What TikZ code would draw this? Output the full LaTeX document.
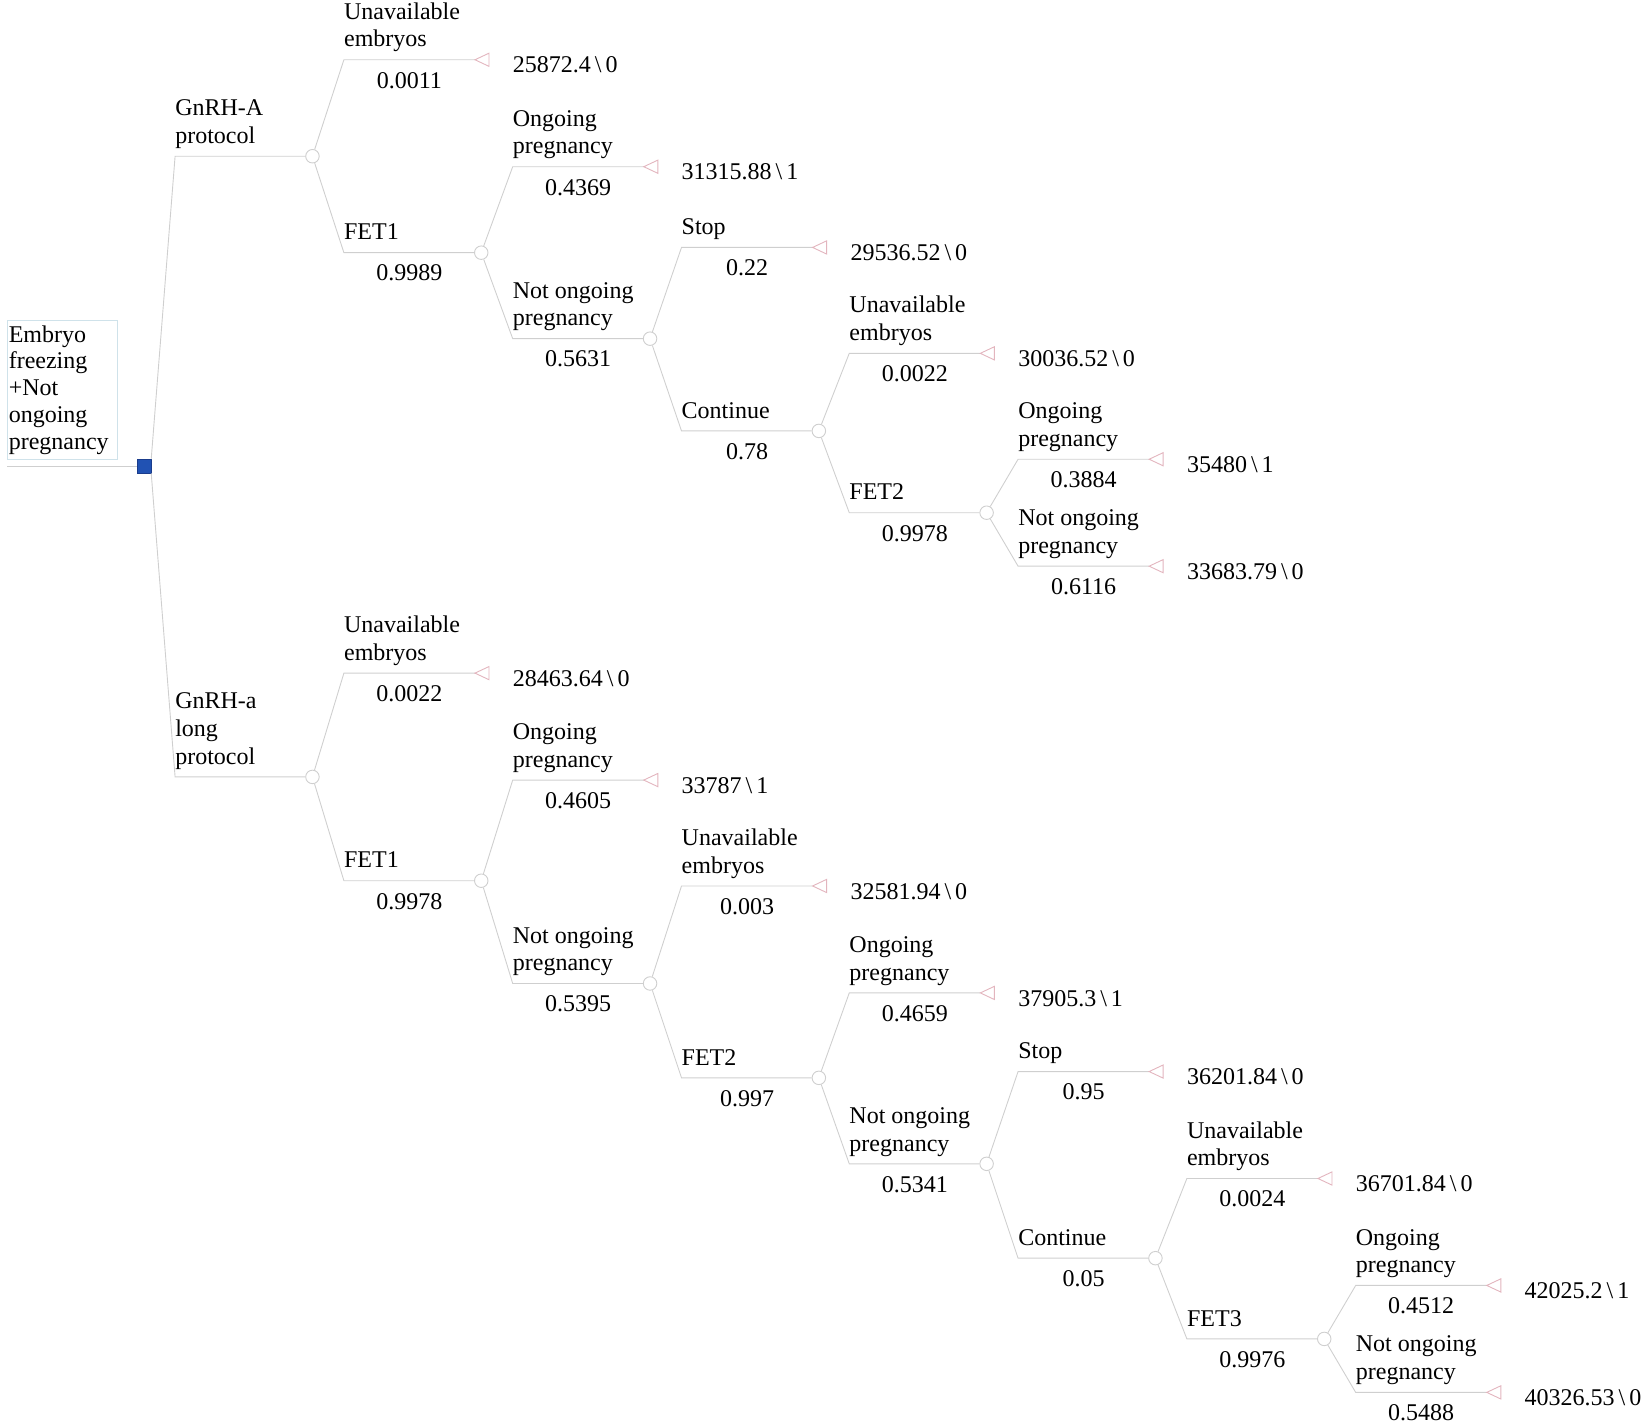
\documentclass[tikz,border=0pt]{standalone}
\usepackage{fontspec}
\setmainfont{Liberation Serif}
\definecolor{edgegray}{HTML}{CFCFCF}
\definecolor{tripink}{HTML}{E3B5BE}
\definecolor{rootblue}{HTML}{2152B3}
\definecolor{rootedge}{HTML}{1A3C8C}
\definecolor{boxblue}{HTML}{CFE2EA}
\tikzset{
  edge/.style={draw=edgegray,line width=0.9pt},
  chance/.style={circle,draw=edgegray,fill=white,line width=0.9pt,inner sep=0pt,minimum size=13.5pt},
  tri/.style={draw=tripink,fill=white,line width=0.9pt,line join=miter},
  lbl/.style={anchor=base west,inner sep=0pt},
  prob/.style={anchor=base,inner sep=0pt},
  val/.style={anchor=base west,inner sep=0pt},
  rootsq/.style={rectangle,draw=rootedge,fill=rootblue,line width=0.6pt,inner sep=0pt,minimum size=13.5pt},
  rootbox/.style={rectangle,draw=boxblue,line width=0.9pt,anchor=south west,align=left,text width=108pt,inner xsep=1pt,inner ysep=5.5pt,font=\fontsize{24}{26.75}\selectfont}
}
% chance branch: name, parent, x start, y, label, prob
\newcommand\BrC[6]{%
  \coordinate (#1-s) at (#3,#4);
  \node[chance] (#1) at ({#3+131},#4) {};
  \draw[edge] (#2) -- (#1-s) -- (#1);
  \node[lbl] (#1-lbl) at (#3,{#4-12.2}) {\begin{tabular}[b]{@{}l@{}}#5\end{tabular}};
  \node[prob] (#1-p) at ({#3+62.5},{#4+27}) {#6};
}
% terminal branch: name, parent, x start, y, label, prob, value
\newcommand\BrT[7]{%
  \coordinate (#1-s) at (#3,#4);
  \coordinate (#1-t) at ({#3+125},#4);
  \draw[edge] (#2) -- (#1-s) -- (#1-t);
  \draw[tri] (#1-t) -- ++(13.4,6.3) -- ++(0,-12.6) -- cycle;
  \node[lbl] (#1-lbl) at (#3,{#4-12.2}) {\begin{tabular}[b]{@{}l@{}}#5\end{tabular}};
  \node[prob] (#1-p) at ({#3+62.5},{#4+27}) {#6};
  \node[val] (#1-v) at ({#3+161},{#4+12.6}) {#7};
}
\newcommand\bs{\,{\textbackslash}\,}
\begin{document}
\begin{tikzpicture}[x=1.0485pt,y=-1.0485pt,every node/.style={font=\fontsize{24}{27.6}\selectfont}]
\useasboundingbox (0,0) rectangle (1568,1357);
% root
\node[rootbox] (rootlbl) at (7,439) {Embryo\\freezing\\+Not\\ongoing\\pregnancy};
\coordinate (root-s) at (7,444.5);
\node[rootsq] (root) at (137.5,444.5) {};
\draw[edge] (root-s) -- (root);
% GnRH-A protocol
\coordinate (A-s) at (167,149);
\node[chance] (A) at (298,149) {};
\draw[edge] (root.north east) -- (A-s) -- (A);
\node[lbl] (A-lbl) at (167,{149-12.2}) {\begin{tabular}[b]{@{}l@{}}GnRH-A\\protocol\end{tabular}};
\BrT{A1}{A}{328}{57}{Unavailable\\embryos}{0.0011}{25872.4\bs 0}
\BrC{A2}{A}{328}{241}{FET1}{0.9989}
\BrT{A21}{A2}{489}{159}{Ongoing\\pregnancy}{0.4369}{31315.88\bs 1}
\BrC{A22}{A2}{489}{323}{Not ongoing\\pregnancy}{0.5631}
\BrT{A221}{A22}{650}{236}{Stop}{0.22}{29536.52\bs 0}
\BrC{A222}{A22}{650}{411}{Continue}{0.78}
\BrT{A2221}{A222}{810}{337}{Unavailable\\embryos}{0.0022}{30036.52\bs 0}
\BrC{A2222}{A222}{810}{489}{FET2}{0.9978}
\BrT{A22221}{A2222}{971}{438}{Ongoing\\pregnancy}{0.3884}{35480\bs 1}
\BrT{A22222}{A2222}{971}{540}{Not ongoing\\pregnancy}{0.6116}{33683.79\bs 0}
% GnRH-a long protocol
\coordinate (B-s) at (167,741);
\node[chance] (B) at (298,741) {};
\draw[edge] (root.south east) -- (B-s) -- (B);
\node[lbl] (B-lbl) at (167,{741-12.2}) {\begin{tabular}[b]{@{}l@{}}GnRH-a\\long\\protocol\end{tabular}};
\BrT{B1}{B}{328}{642}{Unavailable\\embryos}{0.0022}{28463.64\bs 0}
\BrC{B2}{B}{328}{840}{FET1}{0.9978}
\BrT{B21}{B2}{489}{744}{Ongoing\\pregnancy}{0.4605}{33787\bs 1}
\BrC{B22}{B2}{489}{938}{Not ongoing\\pregnancy}{0.5395}
\BrT{B221}{B22}{650}{845}{Unavailable\\embryos}{0.003}{32581.94\bs 0}
\BrC{B222}{B22}{650}{1028}{FET2}{0.997}
\BrT{B2221}{B222}{810}{947}{Ongoing\\pregnancy}{0.4659}{37905.3\bs 1}
\BrC{B2222}{B222}{810}{1110}{Not ongoing\\pregnancy}{0.5341}
\BrT{B22221}{B2222}{971}{1022}{Stop}{0.95}{36201.84\bs 0}
\BrC{B22222}{B2222}{971}{1200}{Continue}{0.05}
\BrT{B222221}{B22222}{1132}{1124}{Unavailable\\embryos}{0.0024}{36701.84\bs 0}
\BrC{B222222}{B22222}{1132}{1277}{FET3}{0.9976}
\BrT{B2222221}{B222222}{1293}{1226}{Ongoing\\pregnancy}{0.4512}{42025.2\bs 1}
\BrT{B2222222}{B222222}{1293}{1328}{Not ongoing\\pregnancy}{0.5488}{40326.53\bs 0}
\end{tikzpicture}
\end{document}
